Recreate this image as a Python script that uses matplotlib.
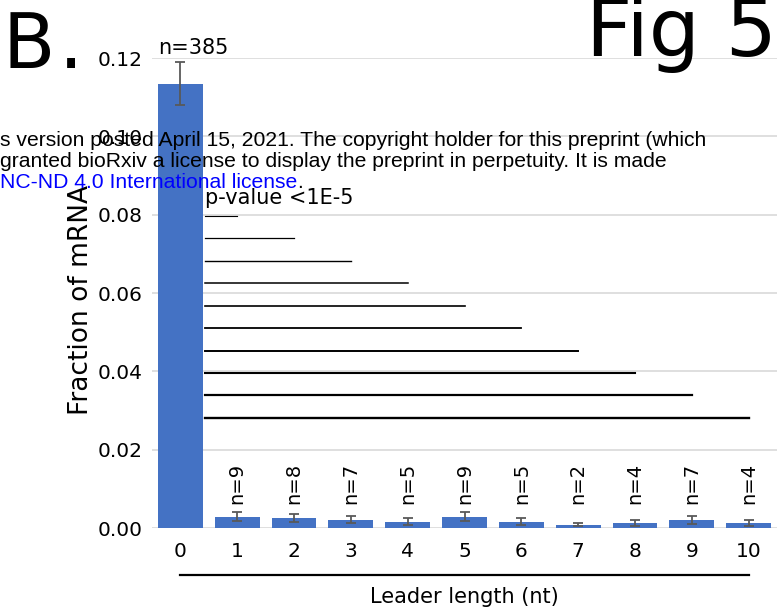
import numpy as np
import matplotlib.pyplot as plt
from matplotlib.transforms import blended_transform_factory

# leader length (nt), mean fraction of mRNA, error, n per group
leader_len = [0, 1, 2, 3, 4, 5, 6, 7, 8, 9, 10]
frac_mrna = [0.1134, 0.0029, 0.0026, 0.0021, 0.0016, 0.0029, 0.0016, 0.0008, 0.0013, 0.0021, 0.0013]
frac_err = [0.0055, 0.0011, 0.00095, 0.00085, 0.00085, 0.0011, 0.00085, 0.00035, 0.00072, 0.001, 0.00072]
n_counts = [385, 9, 8, 7, 5, 9, 5, 2, 4, 7, 4]
yticks = [0.00, 0.02, 0.04, 0.06, 0.08, 0.10, 0.12]

bar_color = '#4472C4'

fig = plt.figure(figsize=(7.77, 6.09), dpi=100)
ax = fig.add_axes([152 / 777, 81 / 609, 625 / 777, 470 / 609])

ax.bar(leader_len, frac_mrna, width=0.79, color=bar_color, zorder=2)
ax.errorbar(leader_len, frac_mrna, yerr=frac_err, fmt='none', ecolor='#595959',
            elinewidth=1.3, capsize=3.5, capthick=1.3, zorder=3)

ax.set_xlim(-0.5, 10.5)
ax.set_ylim(0, 0.12)
ax.set_yticks(yticks)
ax.set_yticklabels([f'{v:.2f}' for v in yticks])
ax.set_xticks(leader_len)
ax.set_xticklabels([str(v) for v in leader_len])
ax.tick_params(axis='both', length=0, labelsize=14.5)
ax.tick_params(axis='y', pad=7)
ax.tick_params(axis='x', pad=10)
ax.yaxis.grid(True, color='#d9d9d9', linewidth=1.2, zorder=0)
ax.set_axisbelow(True)
for s in ax.spines.values():
    s.set_visible(False)

ax.set_ylabel('Fraction of mRNA', fontsize=19)
ax.yaxis.set_label_coords(-0.093, 0.485)
ax.set_xlabel('Leader length (nt)', fontsize=15, va='center')
ax.xaxis.set_label_coords(0.5, -0.147)

# line under the category labels
tr = blended_transform_factory(ax.transData, ax.transAxes)
ax.plot([0, 10], [-0.10, -0.10], color='black', lw=1.6, transform=tr, clip_on=False)

# sample sizes
ax.text(0.23, 0.1225, f'n={n_counts[0]}', ha='center', va='center', fontsize=15)
for x, n in zip(leader_len[1:], n_counts[1:]):
    ax.text(x, 0.0115, f'n={n}', rotation=90, ha='center', va='center', fontsize=14)

# comparisons of leader 0 against each other length
ax.text(0.44, 0.0843, 'p-value <1E-5', ha='left', va='center', fontsize=15)
sig_y = np.linspace(0.0797, 0.0281, 10)
sig_lw = np.linspace(0.8, 1.7, 10)
for x, yy, lw in zip(leader_len[1:], sig_y, sig_lw):
    ax.plot([0.44, x], [yy, yy], color='black', lw=lw, zorder=4)

# panel labels
fig.text(2.5 / 777, 1 - 68 / 609, 'B', fontsize=55, ha='left', va='baseline')
fig.text(59 / 777, 1 - 68 / 609, '.', fontsize=55, ha='left', va='baseline')
fig.text(1.0, 1 - 56 / 609, 'Fig 5', fontsize=58, ha='right', va='baseline')

# preprint notice
notice_font = ['Liberation Sans', 'DejaVu Sans']
nsize = 15.2
fig.text(0, 1 - 146 / 609,
         's version posted April 15, 2021. The copyright holder for this preprint (which',
         fontsize=nsize, family=notice_font, ha='left', va='baseline')
fig.text(0, 1 - 167 / 609,
         'granted bioRxiv a license to display the preprint in perpetuity. It is made',
         fontsize=nsize, family=notice_font, ha='left', va='baseline')
t3 = fig.text(0, 1 - 188 / 609, 'NC-ND 4.0 International license',
              fontsize=nsize, family=notice_font, color='blue', ha='left', va='baseline')
fig.canvas.draw()
bb = t3.get_window_extent()
fig.text(bb.x1 / 777, 1 - 188 / 609, '.', fontsize=nsize, family=notice_font,
         ha='left', va='baseline')

fig.savefig('out.png', dpi=100)
